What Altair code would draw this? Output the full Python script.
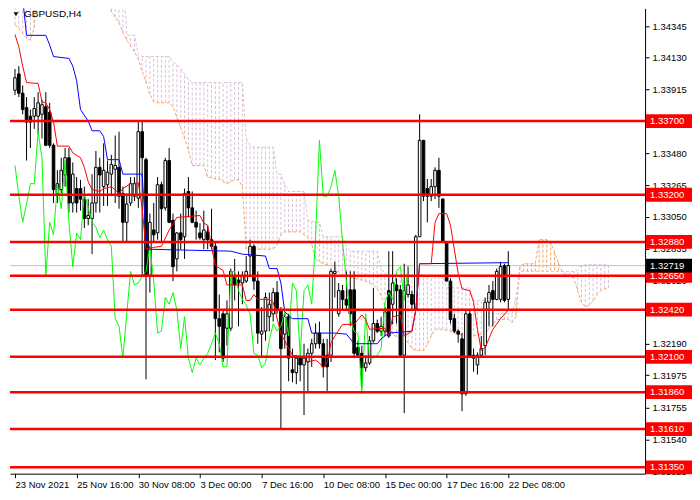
import altair as alt
import pandas as pd

W, H = 636, 466
X_MAX = 162.2
Y_LO, Y_HI = 1.31307, 1.34465
FONT = "Liberation Sans"

opens = [
 1.33909,1.34020,1.33889,1.33791,1.33733,1.33733,1.33733,1.33746,1.33798,1.33759,
 1.33536,1.33209,1.33235,1.33334,1.33451,1.33144,1.33242,1.33242,1.33170,1.33039,
 1.33039,1.33144,1.33386,1.33255,1.33268,1.33340,1.33373,1.33386,1.33209,1.33013,
 1.33144,1.33190,1.33177,1.33628,1.33438,1.32653,1.32961,1.32941,1.33268,1.33111,
 1.33432,1.33026,1.32765,1.32941,1.32915,1.33222,1.33111,1.33013,1.32941,1.32895,
 1.32948,1.32895,1.32850,1.32359,1.32392,1.32294,1.32294,1.32647,1.32621,1.32601,
 1.32614,1.32784,1.32850,1.32614,1.32254,1.32274,1.32372,1.32392,1.32536,1.32418,
 1.32254,1.32372,1.32012,1.31993,1.32091,1.32045,1.32065,1.32124,1.32189,1.32261,
 1.32189,1.32111,1.32111,1.32666,1.32392,1.32549,1.32490,1.32555,1.32555,1.32163,
 1.32124,1.32026,1.32058,1.32209,1.32326,1.32274,1.32274,1.32549,1.32457,1.32588,
 1.32555,1.32111,1.32523,1.32523,1.32425,1.32915,1.33569,1.33242,1.33190,1.33255,
 1.33366,1.33170,1.32882,1.32614,1.32359,1.32274,1.32222,1.31849,1.32392,1.32111,
 1.32045,1.32111,1.32176,1.32470,1.32549,1.32490,1.32490,1.32719,1.32490]
highs = [
 1.34053,1.34073,1.33942,1.33863,1.33778,1.33863,1.33896,1.33844,1.33896,1.33824,
 1.33549,1.33366,1.33451,1.33517,1.33517,1.33419,1.33320,1.33301,1.33255,1.33170,
 1.33340,1.33497,1.33451,1.33549,1.33432,1.33471,1.33602,1.33628,1.33255,1.33209,
 1.33320,1.33320,1.33693,1.33693,1.33451,1.33072,1.33144,1.33320,1.33288,1.33451,
 1.33517,1.33072,1.32948,1.33072,1.33242,1.33320,1.33222,1.33092,1.33007,1.33092,
 1.32993,1.33105,1.32876,1.32523,1.32418,1.32483,1.32699,1.32765,1.32680,1.32680,
 1.32784,1.32895,1.32863,1.32680,1.32438,1.32536,1.32536,1.32568,1.32614,1.32438,
 1.32392,1.32392,1.32156,1.32111,1.32111,1.32189,1.32156,1.32222,1.32326,1.32339,
 1.32222,1.32222,1.32699,1.32745,1.32601,1.32588,1.32680,1.32680,1.32680,1.32209,
 1.32176,1.32111,1.32241,1.32568,1.32353,1.32372,1.32438,1.32817,1.32817,1.32634,
 1.32588,1.32732,1.32712,1.32549,1.32928,1.33746,1.33569,1.33307,1.33307,1.33386,
 1.33451,1.33177,1.32882,1.32634,1.32392,1.32287,1.32261,1.32418,1.32418,1.32156,
 1.32130,1.32241,1.32503,1.32588,1.32614,1.32699,1.32745,1.32732,1.32817]
lows = [
 1.33876,1.33863,1.33746,1.33432,1.33517,1.33647,1.33615,1.33582,1.33530,1.33517,
 1.33144,1.33144,1.33209,1.33255,1.33079,1.33079,1.33079,1.33092,1.32974,1.32993,
 1.32797,1.33079,1.33079,1.33124,1.33124,1.33190,1.33144,1.33105,1.32876,1.32876,
 1.33124,1.33157,1.33111,1.32647,1.31947,1.32536,1.32882,1.32895,1.32882,1.33092,
 1.33007,1.32614,1.32680,1.32830,1.32765,1.33046,1.33007,1.32895,1.32895,1.32830,
 1.32830,1.32830,1.32078,1.32130,1.32065,1.32176,1.32274,1.32483,1.32307,1.32457,
 1.32601,1.32653,1.32555,1.32189,1.32091,1.32209,1.32274,1.32339,1.32392,1.31607,
 1.32156,1.31934,1.31927,1.31914,1.31934,1.31705,1.31862,1.32032,1.32156,1.32156,
 1.31960,1.31869,1.32065,1.32503,1.32372,1.32425,1.32418,1.32307,1.32091,1.32098,
 1.31895,1.31999,1.32045,1.32196,1.32261,1.32241,1.32241,1.32228,1.32320,1.32326,
 1.32111,1.31718,1.32503,1.32418,1.32418,1.32915,1.33157,1.33013,1.33157,1.33170,
 1.33111,1.32876,1.32614,1.32326,1.32261,1.32196,1.31731,1.31836,1.32091,1.31999,
 1.31980,1.32091,1.32111,1.32307,1.32307,1.32483,1.32470,1.32470,1.32418]
closes = [
 1.33994,1.33889,1.33778,1.33693,1.33693,1.33785,1.33824,1.33811,1.33536,1.33536,
 1.33235,1.33275,1.33366,1.33451,1.33144,1.33340,1.33144,1.33170,1.33039,1.33059,
 1.33144,1.33386,1.33334,1.33366,1.33353,1.33406,1.33399,1.33190,1.33013,1.33137,
 1.33275,1.33275,1.33628,1.33451,1.32647,1.33013,1.32928,1.33268,1.33105,1.33432,
 1.33013,1.32712,1.32941,1.32895,1.33209,1.33111,1.33013,1.32980,1.32908,1.32961,
 1.32895,1.32850,1.32359,1.32307,1.32091,1.32392,1.32680,1.32588,1.32601,1.32647,
 1.32680,1.32850,1.32614,1.32261,1.32274,1.32503,1.32457,1.32536,1.32418,1.32156,
 1.32372,1.32091,1.31993,1.32091,1.32045,1.32091,1.32124,1.32189,1.32261,1.32189,
 1.32032,1.32032,1.32680,1.32680,1.32549,1.32490,1.32451,1.32392,1.32124,1.32111,
 1.32026,1.32058,1.32209,1.32326,1.32274,1.32307,1.32405,1.32241,1.32601,1.32549,
 1.32111,1.32549,1.32588,1.32457,1.32915,1.33569,1.33190,1.33190,1.33255,1.33366,
 1.33190,1.32882,1.32614,1.32353,1.32274,1.32254,1.31849,1.32392,1.32098,1.32091,
 1.32111,1.32156,1.32470,1.32536,1.32490,1.32680,1.32712,1.32483,1.32719]

tenkan_idx = [0,1,2,3,6,7,8,9,10,11, 14,15,17,18,19,20,22,23,25,27,
              28,30,32,33,34,36,38,40,42,48, 49,50,51,52,54,55,59,60,61,62,
              63,66,67,69,70,71,72,75,76,78, 79,80,81,82,83,85,88,90,91,92,
              96,97,98,100,101,103,104,105,108,109, 110,112,113,114,115,116,118,119,120,121,
              122,124,126,128]
tenkan_val = [1.34288,1.34203,1.34073,1.33961,1.33955,1.33831,1.33824,1.33778,1.33693,1.33530,
              1.33530,1.33484,1.33451,1.33386,1.33288,1.33235,1.33222,1.33242,1.33255,1.33209,
              1.33242,1.33275,1.33281,1.33111,1.32830,1.32843,1.32850,1.32961,1.33046,1.33059,
              1.33007,1.32993,1.32850,1.32719,1.32686,1.32588,1.32588,1.32483,1.32483,1.32523,
              1.32490,1.32490,1.32470,1.32254,1.32209,1.32156,1.32111,1.32098,1.32065,1.32078,
              1.32058,1.32026,1.32058,1.32196,1.32241,1.32320,1.32320,1.32385,1.32353,1.32287,
              1.32294,1.32241,1.32372,1.32385,1.32241,1.32274,1.32418,1.32732,1.32732,1.33013,
              1.33072,1.33072,1.32993,1.32830,1.32666,1.32562,1.32549,1.32470,1.32287,1.32143,
              1.32163,1.32287,1.32359,1.32418]

kijun_idx = [0,2,3,8,9,10,14,15,16,17, 19,20,22,23,24,27,28,33,34,35,
             56,59,65,66,68,69,70,72,76,77, 83,86,87,88,94,95,97,103,104,105, 128]
kijun_val = [1.34857,1.34530,1.34282,1.34282,1.34216,1.34138,1.34125,1.34073,1.33974,1.33778,
             1.33700,1.33634,1.33634,1.33595,1.33438,1.33438,1.33340,1.33340,1.32915,1.32830,
             1.32817,1.32797,1.32784,1.32699,1.32699,1.32601,1.32405,1.32359,1.32359,1.32261,
             1.32261,1.32254,1.32222,1.32189,1.32189,1.32222,1.32261,1.32274,1.32418,1.32732,
             1.32739]

senkou_a = [
 1.34354,1.34328,1.34295,1.34262,1.34249,1.34334,
 1.34727,1.34727,1.34727,1.34727,1.34727,1.34727,1.34727,1.34727,1.34727,
 1.34727,1.34727,1.34727,1.34727,1.34727,1.34727,1.34727,1.34727,1.34727,
 1.34530,1.34445,1.34406,1.34367,1.34302,1.34249,1.34210,1.34171,1.34118,1.34040,
 1.33961,1.33883,1.33831,1.33824,1.33824,1.33824,1.33824,1.33798,1.33726,1.33654,
 1.33582,1.33504,1.33399,1.33399,1.33399,1.33399,1.33320,1.33314,1.33307,1.33307,
 1.33288,1.33275,1.33288,1.33301,1.33301,1.33255,
 1.32830,1.32830,1.32830,1.32830,1.32830,1.32830,1.32830,1.32830,
 1.32863,1.32928,1.32948,1.32948,1.32948,1.32948,1.32948,1.32928,1.32908,1.32863,
 1.32765,1.32745,1.32732,1.32725,1.32719,1.32706,1.32673,1.32647,1.32647,1.32640,
 1.32634,1.32627,1.32621,1.32614,1.32601,1.32588,1.32562,1.32516,1.32451,1.32339,
 1.32254,1.32235,1.32228,1.32228,1.32196,1.32156,1.32143,1.32143,1.32143,1.32183,
 1.32241,1.32287,1.32287,1.32287,1.32281,1.32274,1.32261,1.32254,1.32248,1.32241,
 1.32241,1.32241,1.32248,1.32254,1.32267,1.32287,1.32320,1.32353,1.32353,1.32353,
 1.32353,1.32333,1.32372,1.32712,1.32732,1.32732,1.32732,1.32732,1.32895,1.32895,
 1.32895,1.32876,1.32810,1.32739,1.32673,1.32653,1.32653,1.32634,1.32549,1.32470,
 1.32438,1.32451,1.32477,1.32523,1.32549,1.32562,1.32568]
senkou_b = [
 1.34800,1.34800,1.34800,1.34800,1.34800,1.34800,1.34800,1.34800,1.34800,1.34800,
 1.34800,1.34800,1.34800,1.34800,1.34800,1.34800,1.34800,1.34800,1.34800,1.34800,
 1.34800,1.34800,1.34800,1.34800,1.34800,1.34800,1.34800,1.34800,1.34800,
 1.34282,1.34282,1.34282,1.34151,
 1.34138,1.34138,1.34138,1.34138,1.34138,1.34138,1.34138,1.34138,
 1.34105,1.34079,1.34059,1.34020,1.33981,
 1.33961,1.33961,1.33961,1.33961,1.33961,1.33961,1.33961,1.33961,1.33961,1.33961,
 1.33961,1.33961,1.33961,1.33961,
 1.33582,1.33536,1.33523,1.33523,1.33523,1.33523,1.33523,1.33523,
 1.33340,1.33340,1.33268,1.33222,1.33222,1.33222,1.33222,1.33222,
 1.33026,1.33020,1.33013,1.33013,
 1.32915,1.32915,1.32915,1.32915,1.32915,1.32915,1.32850,
 1.32817,1.32817,1.32817,1.32817,1.32817,1.32817,1.32817,1.32817,
 1.32699,1.32666,
 1.32653,1.32653,1.32653,1.32653,1.32653,1.32653,1.32653,1.32653,1.32653,1.32653,
 1.32653,1.32653,1.32653,1.32653,1.32647,
 1.32568,1.32568,1.32568,1.32568,1.32568,1.32568,1.32568,
 1.32483,1.32483,1.32483,1.32483,
 1.32392,1.32392,1.32392,1.32392,1.32392,1.32392,1.32392,1.32503,
 1.32680,1.32680,1.32680,1.32680,1.32680,1.32680,1.32680,1.32680,1.32680,1.32680,
 1.32680,1.32680,1.32680,1.32680,1.32680,1.32686,1.32719,
 1.32725,1.32725,1.32725,1.32725,1.32725,1.32725,1.32725]

levels = [1.33700, 1.33200, 1.32880, 1.32650, 1.32420, 1.32100, 1.31860, 1.31610, 1.31350]
current_price = 1.32719
price_ticks = [1.34345, 1.34130, 1.33915, 1.33700, 1.33480, 1.33265, 1.33050, 1.32835,
               1.32620, 1.32405, 1.32190, 1.31975, 1.31755, 1.31540, 1.31325]
hidden_tick_labels = [1.33700, 1.32405]   # fully covered by level boxes in the original
date_ticks = [0, 16, 32, 48, 64, 80, 96, 112, 128]
date_labels = ["23 Nov 2021", "25 Nov 16:00", "30 Nov 08:00", "3 Dec 00:00", "7 Dec 16:00",
               "10 Dec 08:00", "15 Dec 00:00", "17 Dec 16:00", "22 Dec 08:00"]
symbol_title = "GBPUSD,H4"

n = len(opens)
bars = pd.DataFrame({"i": list(range(n)), "o": opens, "h": highs, "l": lows, "c": closes})
chik = pd.DataFrame({"i": list(range(n - 26)), "v": closes[26:]})
tenk = pd.DataFrame({"i": tenkan_idx, "v": tenkan_val})
kij = pd.DataFrame({"i": kijun_idx, "v": kijun_val})
cloud = pd.DataFrame({"i": list(range(len(senkou_a))), "a": senkou_a, "b": senkou_b})
cloud["col"] = ["#D8BFD8" if b >= a else "#F4A460" for a, b in zip(senkou_a, senkou_b)]
lev = pd.DataFrame({"v": levels, "t": [f"{v:.5f}" for v in levels]})
cur = pd.DataFrame({"v": [current_price], "t": [f"{current_price:.5f}"]})
ttl = pd.DataFrame({"t": [symbol_title]})

lbl_expr = "".join(f"datum.value=={t}?'{s}':" for t, s in zip(date_ticks, date_labels)) + "''"
ylbl_expr = "".join(f"abs(datum.value-{v})<0.000001?'':" for v in hidden_tick_labels) + \
    "format(datum.value,'.5f')"

xs = alt.Scale(domain=[0, X_MAX], nice=False, zero=False)
ys = alt.Scale(domain=[Y_LO, Y_HI], nice=False, zero=False)
xaxis = alt.Axis(values=date_ticks, labelExpr=lbl_expr, labelAlign="left", labelFlush=False,
                 tickSize=4, grid=False, title=None, labelFontSize=9.5, labelPadding=2,
                 labelOverlap=False)
yaxis = alt.Axis(orient="right", values=price_ticks, labelExpr=ylbl_expr, title=None,
                 grid=False, tickSize=4, labelFontSize=9.5, labelPadding=3,
                 labelOverlap=False, labelBaseline="middle")

def X():
    return alt.X("i:Q", scale=xs, axis=xaxis)

def Y(f):
    return alt.Y(f"{f}:Q", scale=ys, axis=yaxis)

hatch = alt.Chart(cloud).mark_rule(strokeDash=[3, 2], strokeWidth=1, clip=True).encode(
    x=X(), y=Y("a"), y2="b:Q", color=alt.Color("col:N", scale=None))
span_a = alt.Chart(cloud).mark_line(strokeDash=[3, 2], strokeWidth=1, color="#F4A460",
                                    clip=True).encode(x=X(), y=Y("a"))
span_b = alt.Chart(cloud).mark_line(strokeDash=[3, 2], strokeWidth=1, color="#D8BFD8",
                                    clip=True).encode(x=X(), y=Y("b"))
curline = alt.Chart(cur).mark_rule(color="#C0C0C0", strokeWidth=1).encode(
    y=Y("v"), x=alt.value(0), x2=alt.value(W))
wicks = alt.Chart(bars).mark_rule(color="black", strokeWidth=1).encode(
    x=X(), y=Y("l"), y2="h:Q")
bodies = alt.Chart(bars).mark_bar(size=2.6, stroke="black", strokeWidth=1).encode(
    x=X(), y=Y("o"), y2="c:Q",
    fill=alt.condition("datum.c >= datum.o", alt.value("white"), alt.value("black")))
chikou = alt.Chart(chik).mark_line(color="#00FF00", strokeWidth=1, clip=True).encode(
    x=X(), y=Y("v"))
kijun = alt.Chart(kij).mark_line(color="#0000FF", strokeWidth=1, clip=True).encode(
    x=X(), y=Y("v"))
tenkan = alt.Chart(tenk).mark_line(color="#FF0000", strokeWidth=1, clip=True).encode(
    x=X(), y=Y("v"))
lvl_lines = alt.Chart(lev).mark_rule(color="#FF0000", strokeWidth=2.5).encode(
    y=Y("v"), x=alt.value(0), x2=alt.value(W))
box_shape = "M-1,-0.3H1V0.3H-1Z"
lvl_box = alt.Chart(lev).mark_point(shape=box_shape, size=2116, filled=True, opacity=1,
                                    color="#FF0000", strokeWidth=0).encode(
    y=Y("v"), x=alt.value(W + 24))
lvl_txt = alt.Chart(lev).mark_text(align="left", baseline="middle", color="white",
                                   font=FONT, fontSize=9.5).encode(
    y=Y("v"), x=alt.value(W + 5), text="t:N")
cur_box = alt.Chart(cur).mark_point(shape=box_shape, size=2116, filled=True, opacity=1,
                                    color="black", strokeWidth=0).encode(
    y=Y("v"), x=alt.value(W + 24))
cur_txt = alt.Chart(cur).mark_text(align="left", baseline="middle", color="white",
                                   font=FONT, fontSize=9.5).encode(
    y=Y("v"), x=alt.value(W + 5), text="t:N")
title_tri = alt.Chart(ttl).mark_point(shape="triangle-down", filled=True, size=22,
                                      color="black", opacity=1).encode(
    x=alt.value(6), y=alt.value(6))
title_txt = alt.Chart(ttl).mark_text(align="left", baseline="middle", color="black",
                                     font=FONT, fontSize=10).encode(
    x=alt.value(14), y=alt.value(6), text="t:N")

chart = alt.layer(
    hatch, span_a, span_b, curline, wicks, bodies, chikou, kijun, tenkan,
    lvl_lines, lvl_box, lvl_txt, cur_box, cur_txt, title_tri, title_txt
).properties(
    width=W, height=H, padding={"left": 0, "top": 0, "right": 0, "bottom": 0}
).configure_view(stroke=None).configure_axis(
    domainColor="black", tickColor="black", labelColor="black", labelFont=FONT,
    domainWidth=1, tickWidth=1
)

chart.save("out.html", embed_options={"renderer": "svg", "actions": False})
